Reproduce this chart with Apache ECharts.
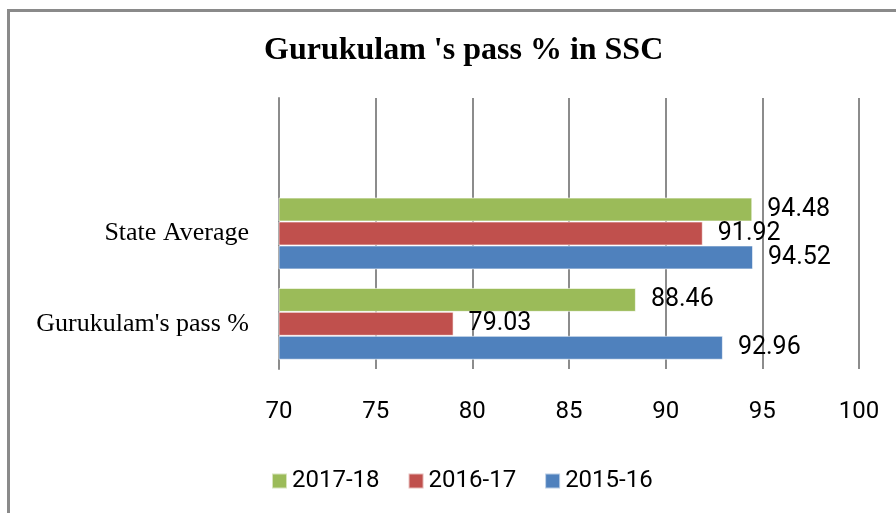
<!DOCTYPE html>
<html>
<head>
<meta charset="utf-8">
<title>Gurukulam pass %</title>
<script src="https://cdn.jsdelivr.net/npm/echarts@6/dist/echarts.min.js"></script>
<style>
  body { margin: 0; background: #fff; }
  #frame { position: absolute; left: 7px; top: 9px; width: 900px; height: 520px; border: 3px solid #8a8a8a; box-sizing: border-box; }
  #main { position: absolute; left: 0; top: 0; width: 896px; height: 513px; }
</style>
</head>
<body>
<div id="frame"></div>
<div id="main"></div>
<script type="text/javascript">
// categories, bottom to top (last one is the empty slot above the bars)
var categories = ["Gurukulam's pass %", 'State Average', ''];
var values2015 = [92.96, 94.52];
var values2016 = [79.03, 91.92];
var values2017 = [88.46, 94.48];
var xTicks = [70, 100, 5];

var colors = { '2015-16': '#4f81bd', '2016-17': '#c0504d', '2017-18': '#9bbb59' };
var numFont = 'Roboto, sans-serif';
var serifFont = '"Liberation Serif", "Times New Roman", serif';
var gridColor = '#8c8c8c';

function makeSeries(name, vals) {
  return {
    name: name,
    type: 'bar',
    data: vals,
    barGap: '0%',
    barCategoryGap: '20.5%',
    itemStyle: { color: colors[name], borderColor: 'rgba(255,255,255,0.6)', borderWidth: 1 },
    label: {
      show: true,
      position: 'right',
      distance: 15,
      color: '#000',
      fontFamily: numFont,
      fontSize: 25
    }
  };
}

var myChart = echarts.init(document.getElementById('main'));
var option = {
  animation: false,
  title: {
    text: "Gurukulam 's pass % in SSC",
    left: 259,
    top: 30,
    textStyle: { fontFamily: serifFont, fontWeight: 'bold', fontSize: 32, color: '#000' }
  },
  legend: {
    data: ['2017-18', '2016-17', '2015-16'],
    left: 266,
    top: 464,
    itemWidth: 15,
    itemHeight: 15,
    itemGap: 28,
    icon: 'rect',
    textStyle: { fontFamily: numFont, fontSize: 24, color: '#000' }
  },
  grid: { left: 279, right: 37, top: 98, bottom: 144, containLabel: false },
  xAxis: {
    type: 'value',
    min: xTicks[0],
    max: xTicks[1],
    interval: xTicks[2],
    axisLine: { show: false },
    axisTick: { show: false },
    axisLabel: { margin: 31, color: '#000', fontFamily: numFont, fontSize: 24 },
    splitLine: { show: true, lineStyle: { color: gridColor, width: 2 } }
  },
  yAxis: {
    type: 'category',
    data: categories,
    axisLine: { show: true, lineStyle: { color: gridColor, width: 2 } },
    axisTick: { show: false },
    axisLabel: { margin: 30, color: '#000', fontFamily: serifFont, fontSize: 26 }
  },
  series: [
    makeSeries('2017-18', values2017),
    makeSeries('2016-17', values2016),
    makeSeries('2015-16', values2015)
  ]
};
myChart.setOption(option);
</script>
</body>
</html>
